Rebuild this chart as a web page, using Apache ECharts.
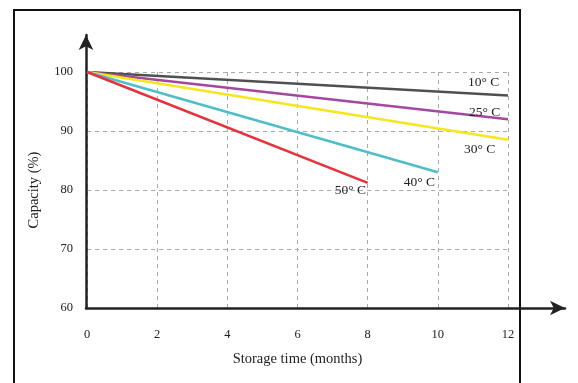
<!DOCTYPE html>
<html>
<head>
<meta charset="utf-8">
<script src="https://cdn.jsdelivr.net/npm/echarts@6/dist/echarts.min.js"></script>
<style>
  html, body { margin: 0; padding: 0; background: #fff; }
  #chart { width: 578px; height: 383px; }
</style>
</head>
<body>
<div id="chart"></div>
<script>
// storage time (months) / capacity (%) for each temperature
var labels10 = '10\u00b0 C', labels25 = '25\u00b0 C', labels30 = '30\u00b0 C', labels40 = '40\u00b0 C', labels50 = '50\u00b0 C';
var cap10 = [[0, 100], [12, 96]];
var cap25 = [[0, 100], [12, 92]];
var cap30 = [[0, 100], [12, 88.5]];
var cap40 = [[0, 100], [10, 83]];
var cap50 = [[0, 100], [8, 81.2]];

var xTicks = [0, 2, 4, 6, 8, 10, 12];
var yTicks = [60, 70, 80, 90, 100];

var chart = echarts.init(document.getElementById('chart'));

var serif = 'Liberation Serif';
var textColor = '#222';

// line series with a label at its last point
function makeLine(name, data, color, offset) {
    return {
        name: name,
        type: 'line',
        xAxisIndex: 0,
        yAxisIndex: 0,
        data: data,
        symbol: 'none',
        lineStyle: { color: color, width: 2.5 },
        z: 5,
        label: { show: false },
        endLabel: {
            show: true,
            formatter: name,
            position: 'inside',
            offset: offset,
            fontFamily: serif,
            fontSize: 13.5,
            color: textColor
        }
    };
}

var option = {
    animation: false,
    grid: [
        // grid with the data and the dashed grid lines
        { left: 87, right: 70, top: 72, bottom: 75 },
        // bigger grid used only for the arrow axes
        { left: 86, right: 13, top: 35, bottom: 75 }
    ],
    xAxis: [{
        type: 'value',
        gridIndex: 0,
        min: xTicks[0],
        max: xTicks[xTicks.length - 1],
        interval: 2,
        axisLine: { show: false },
        axisTick: { show: false },
        axisLabel: {
            margin: 20,
            fontFamily: serif,
            fontSize: 12.5,
            color: textColor
        },
        splitLine: {
            show: true,
            lineStyle: { color: '#aaa', type: [4, 4], width: 1 }
        },
        name: 'Storage time (months)',
        nameLocation: 'middle',
        nameGap: 44,
        nameTextStyle: { fontFamily: serif, fontSize: 14.5, color: textColor }
    }, {
        type: 'value',
        gridIndex: 1,
        min: 0,
        max: 1,
        axisLine: {
            show: true,
            symbol: ['none', 'arrow'],
            symbolSize: [11, 15],
            lineStyle: { color: '#222', width: 2.5 }
        },
        axisTick: { show: false },
        axisLabel: { show: false },
        splitLine: { show: false }
    }],
    yAxis: [{
        type: 'value',
        gridIndex: 0,
        min: yTicks[0],
        max: yTicks[yTicks.length - 1],
        interval: 10,
        axisLine: { show: false },
        axisTick: { show: false },
        axisLabel: {
            margin: 14,
            fontFamily: serif,
            fontSize: 12.5,
            color: textColor
        },
        splitLine: {
            show: true,
            lineStyle: { color: '#aaa', type: [4, 4], width: 1 }
        },
        name: 'Capacity (%)',
        nameLocation: 'middle',
        nameGap: 45,
        nameTextStyle: { fontFamily: serif, fontSize: 14.5, color: textColor }
    }, {
        type: 'value',
        gridIndex: 1,
        min: 0,
        max: 1,
        axisLine: {
            show: true,
            symbol: ['none', 'arrow'],
            symbolSize: [11, 15],
            lineStyle: { color: '#222', width: 2.5 }
        },
        axisTick: { show: false },
        axisLabel: { show: false },
        splitLine: { show: false }
    }],
    graphic: [{
        // outer frame
        type: 'rect',
        shape: { x: 14, y: 10, width: 506, height: 400 },
        style: { fill: 'none', stroke: '#111', lineWidth: 2 },
        silent: true
    }],
    series: [
        makeLine(labels10, cap10, '#505050', [-48, -13]),
        makeLine(labels25, cap25, '#a3479f', [-47, -7]),
        makeLine(labels30, cap30, '#f6e61c', [-52, 10]),
        makeLine(labels40, cap40, '#4dbfc8', [-42, 10]),
        makeLine(labels50, cap50, '#e5323b', [-41, 8])
    ]
};

chart.setOption(option);
</script>
</body>
</html>
